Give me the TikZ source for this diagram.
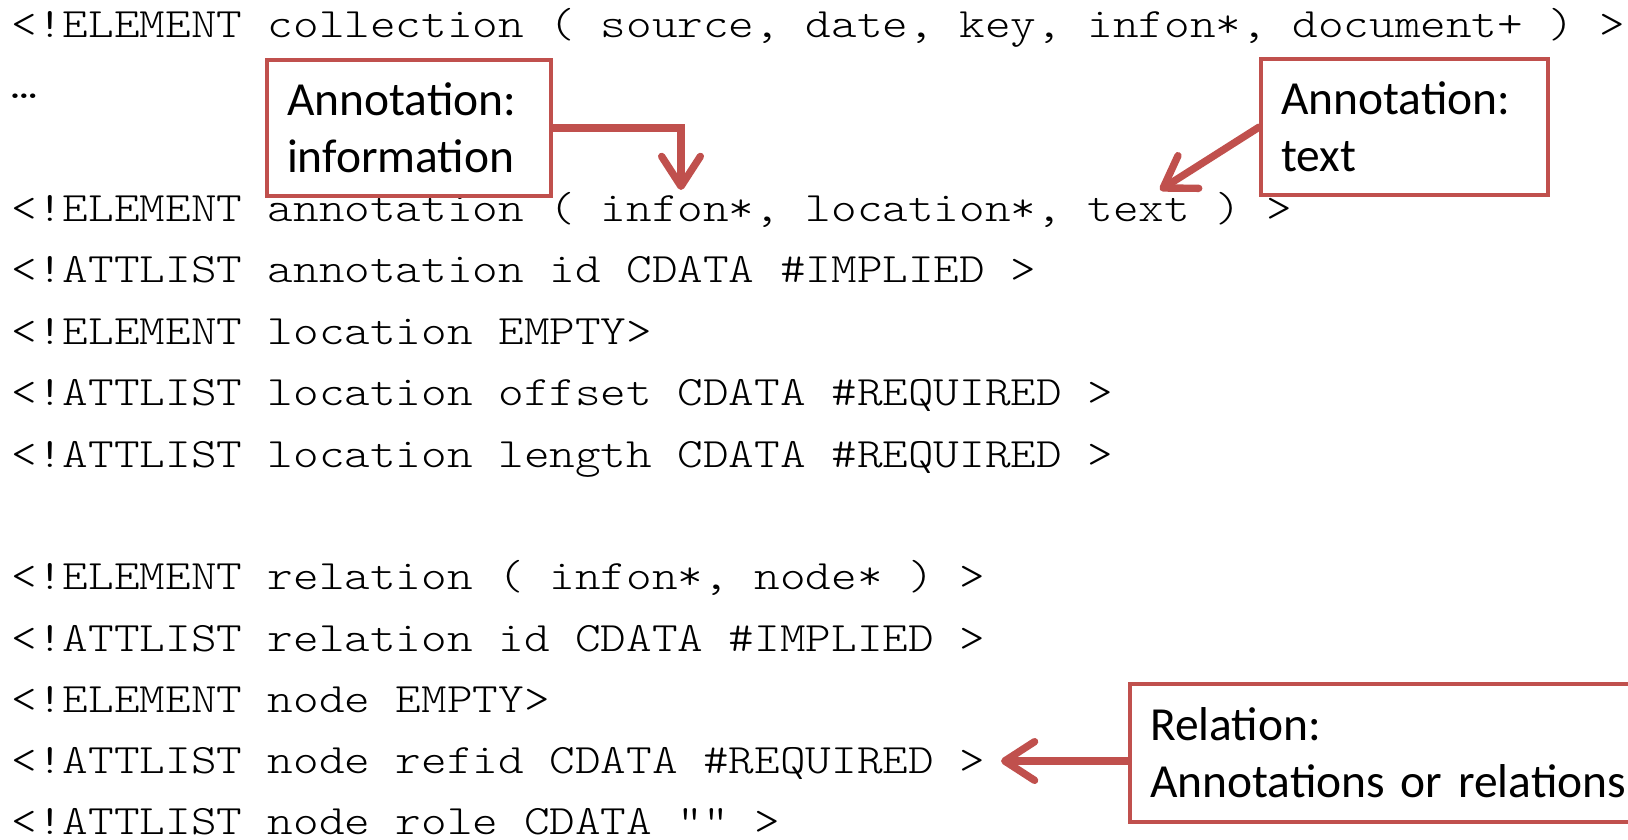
\documentclass[tikz,border=0pt]{standalone}
\usepackage{fontspec}
\newfontfamily\codefont[FakeStretch=1.166]{lmmonolt10-regular.otf}
\newfontfamily\notefont{Carlito}
\usepackage{tikz}
\usetikzlibrary{positioning,arrows.meta}
\definecolor{notered}{HTML}{C0504D}

\tikzset{
  code/.style={anchor=base west, inner sep=0pt, font=\codefont\fontsize{11.9}{14}\selectfont},
  notebox/.style={draw=notered, line width=1.2pt, fill=white, anchor=north west, align=left,
    inner xsep=0.2cm, inner ysep=0pt, minimum height=1.36cm,
    font=\notefont\fontsize{13.5}{16.2}\selectfont},
  pointer/.style={draw=notered, line width=2.1pt, line cap=round,
    -{Straight Barb[length=8.5pt,width=11pt,round]}}
}

\begin{document}
\begin{tikzpicture}[x=0.01cm,y=-0.01cm]
        % Page frame
        \useasboundingbox (0,0) rectangle (1628,840);
        \clip (0,0) rectangle (1628,840);

        % DTD lines
        \node[code] (coll) at (11,38) {<!ELEMENT collection ( source, date, key, infon*, document+ ) >};
        \node[code] (dots) at (11,99) {…};
        \node[code] (annel) at (11,222) {<!ELEMENT annotation ( infon*, location*, text ) >};
        \node[code] (annid) at (11,283) {<!ATTLIST annotation id CDATA \#IMPLIED >};
        \node[code] (locel) at (11,344) {<!ELEMENT location EMPTY>};
        \node[code] (locoff) at (11,406) {<!ATTLIST location offset CDATA \#REQUIRED >};
        \node[code] (loclen) at (11,467) {<!ATTLIST location length CDATA \#REQUIRED >};

        \node[code] (relel) at (11,589) {<!ELEMENT relation ( infon*, node* ) >};
        \node[code] (relid) at (11,651) {<!ATTLIST relation id CDATA \#IMPLIED >};
        \node[code] (nodeel) at (11,712) {<!ELEMENT node EMPTY>};
        \node[code] (noderef) at (11,773) {<!ATTLIST node refid CDATA \#REQUIRED >};
        \node[code] (noderole) at (11,834) {<!ATTLIST node role CDATA "" >};

        % Callout boxes
        \node[notebox, text width=2.44cm] (infobox) at (265,58) {Annotation:\\information};
        \node[notebox, text width=2.465cm] (textbox) at (1259,57) {Annotation:\\text};
        \node[notebox, text width=5.2cm, minimum height=1.38cm] (relbox) at (1128,682) {Relation:\\Annotations or relations};

        % Arrow ends
        \coordinate (infotip) at (681,190);
        \coordinate (texttip) at (1160,190);
        \coordinate (reltip) at (1001,761);

        % Pointers
        \draw[pointer] (infobox.east) -| (infotip);
        \draw[pointer] (textbox.west) -- (texttip);
        \draw[pointer] (relbox.west |- reltip) -- (reltip);
    \end{tikzpicture}
\end{document}
